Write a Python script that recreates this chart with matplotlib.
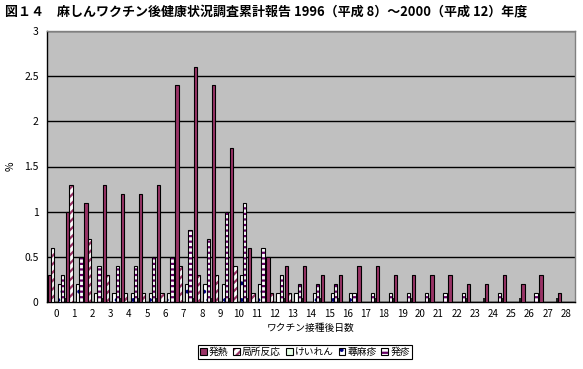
import matplotlib
matplotlib.use("Agg")
import matplotlib.pyplot as plt
from matplotlib.patches import Patch
import numpy as np

plt.rcParams['font.family'] = ['Noto Sans CJK JP', 'DejaVu Sans']
plt.rcParams['hatch.linewidth'] = 1.6

# data
days = list(range(29))
day_labels = [str(d) for d in days]
series_names = ['発熱', '局所反応', 'けいれん', '蕁麻疹', '発疹']

fever = [0.3, 1.0, 1.1, 1.3, 1.2, 1.2, 1.3, 2.4, 2.6, 2.4, 1.7, 0.6, 0.5, 0.4, 0.4,
         0.3, 0.3, 0.4, 0.4, 0.3, 0.3, 0.3, 0.3, 0.2, 0.2, 0.3, 0.2, 0.3, 0.1]
local = [0.6, 1.3, 0.7, 0.3, 0.1, 0.1, 0.1, 0.4, 0.3, 0.3, 0.4, 0.1, 0.1, 0.1, 0,
         0, 0, 0, 0, 0, 0, 0, 0, 0, 0, 0, 0, 0, 0]
convulsion = [0] * 29
urticaria = [0.2, 0.2, 0.1, 0.1, 0.1, 0.1, 0.1, 0.2, 0.2, 0.2, 0.3, 0.2, 0.1, 0.1, 0.1,
             0.1, 0.1, 0, 0, 0, 0, 0, 0, 0, 0, 0, 0, 0, 0]
rash = [0.3, 0.5, 0.4, 0.4, 0.4, 0.5, 0.5, 0.8, 0.7, 1.0, 1.1, 0.6, 0.3, 0.2, 0.2,
        0.2, 0.1, 0.1, 0.1, 0.1, 0.1, 0.1, 0.1, 0, 0.1, 0, 0.1, 0, 0]

# style per series: face, hatch, hatch colour
styles = [
    ('#993366', None, '#993366'),
    ('white', '////', '#993366'),
    ('#E6FFE6', None, '#E6FFE6'),
    ('white', '..', '#000080'),
    ('white', '---', '#660066'),
]

fig = plt.figure(figsize=(5.83, 3.69), dpi=100)
ax = fig.add_axes([47 / 583, 1 - 302 / 369, 528 / 583, 271 / 369])
ax.set_facecolor('#C0C0C0')

x = np.arange(len(days))
w = 0.18
all_vals = [fever, local, convulsion, urticaria, rash]
handles = []
for i, vals in enumerate(all_vals):
    face, hatch, hcol = styles[i]
    pos = x + (i - 2) * w
    ax.bar(pos, vals, w, color=face, hatch=hatch, edgecolor=hcol, linewidth=0, zorder=3)
    ax.bar(pos, vals, w, facecolor='none', edgecolor='black', linewidth=0.8, zorder=4)
    handles.append((Patch(facecolor=face, hatch=hatch, edgecolor=hcol, linewidth=0),
                    Patch(facecolor='none', edgecolor='black', linewidth=0.8)))

ax.set_xlim(-0.5, len(days) - 0.5)
ax.set_ylim(0, 3)
ax.set_yticks(np.arange(0, 3.01, 0.5))
ax.set_yticklabels(['0', '0.5', '1', '1.5', '2', '2.5', '3'])
ax.yaxis.grid(True, color='black', linewidth=1.0)
ax.set_axisbelow(True)

ax.set_xticks(x)
ax.set_xticklabels(day_labels)
ax.set_xticks(np.arange(0.5, len(days) - 0.5, 1), minor=True)
ax.tick_params(axis='x', which='major', length=0, pad=5, labelsize=7)
ax.tick_params(axis='x', which='minor', direction='in', length=3, width=1.2, color='black')
ax.tick_params(axis='y', length=0, pad=6, labelsize=7.5)

for side in ['left', 'bottom']:
    ax.spines[side].set_color('black')
    ax.spines[side].set_linewidth(1.0)
for side in ['top', 'right']:
    ax.spines[side].set_color('#808080')
    ax.spines[side].set_linewidth(1.0)

ax.set_xlabel('ワクチン接種後日数', fontsize=7, labelpad=3)
ax.set_ylabel('%', fontsize=7.5, labelpad=6)

fig.text(0.009, 0.985, '図１４　麻しんワクチン後健康状況調査累計報告 1996（平成 8）～2000（平成 12）年度',
         fontsize=9.35, fontweight='bold', ha='left', va='top')

leg = fig.legend(handles, series_names, loc='center', bbox_to_anchor=(305 / 583, 1 - 352 / 369),
                 ncol=5, fontsize=7, frameon=True, fancybox=False, framealpha=1,
                 handlelength=0.7, handleheight=0.7, handletextpad=0.2, columnspacing=0.5,
                 borderpad=0.25, borderaxespad=0)
leg.get_frame().set_edgecolor('black')
leg.get_frame().set_linewidth(0.8)

fig.savefig('out.png', dpi=100)
